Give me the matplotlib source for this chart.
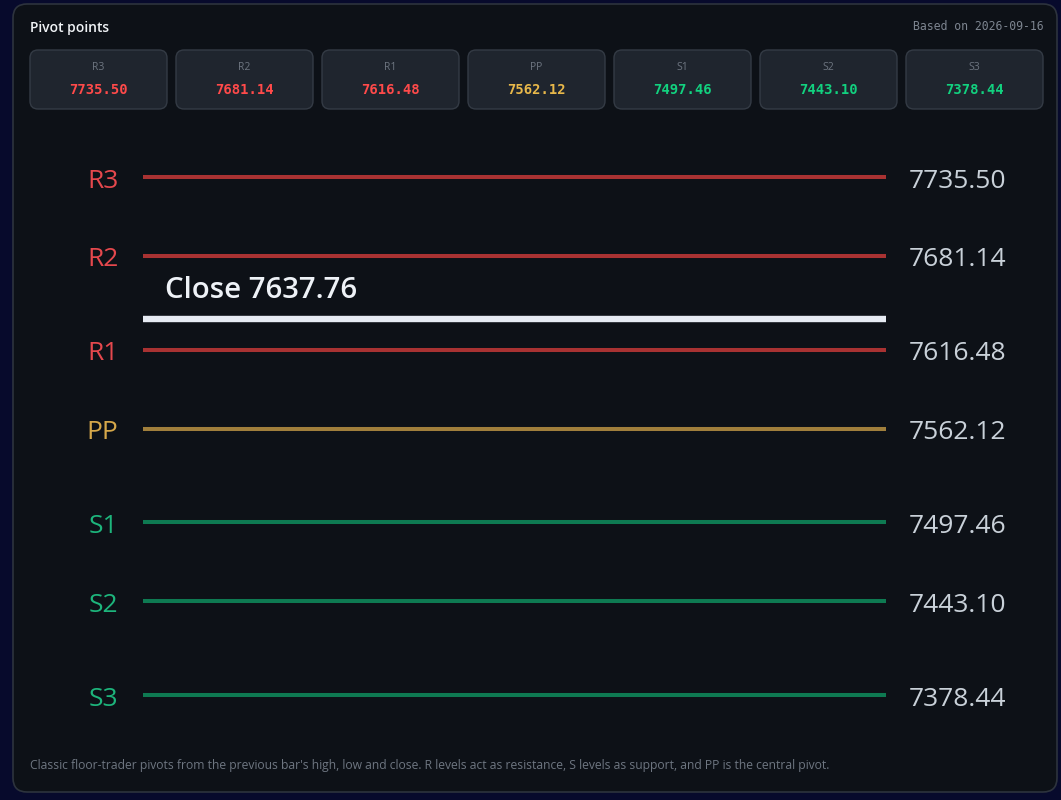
import matplotlib.pyplot as plt
from matplotlib.patches import FancyBboxPatch
from matplotlib.transforms import offset_copy

# data
levels = ['R3', 'R2', 'R1', 'PP', 'S1', 'S2', 'S3']
values = [7735.50, 7681.14, 7616.48, 7562.12, 7497.46, 7443.10, 7378.44]
close_price = 7637.76
based_on = '2026-09-16'
note = ("Classic floor-trader pivots from the previous bar's high, low and close. "
        "R levels act as resistance, S levels as support, and PP is the central pivot.")

W, H = 1061, 800
FONT = ['Open Sans', 'DejaVu Sans']
MONO = ['DejaVu Sans Mono']

line_col = {'R': '#a83232', 'P': '#a07f3c', 'S': '#0e7a52'}
label_col = {'R': '#e5484d', 'P': '#d6a84a', 'S': '#1db57c'}
card_col = {'R': '#ff4a4a', 'P': '#e8b84a', 'S': '#12d17f'}

fig = plt.figure(figsize=(W / 100, H / 100), dpi=100)
fig.patch.set_facecolor('#070a2c')

# background card (pixel coordinates, y down)
bg = fig.add_axes([0, 0, 1, 1])
bg.set_xlim(0, W)
bg.set_ylim(H, 0)
bg.axis('off')
bg.add_patch(FancyBboxPatch((13, 4), W - 13 - 4, 788, boxstyle='round,pad=0,rounding_size=14',
                            facecolor='#0d1117', edgecolor='#2d333d', linewidth=1.2))

bg.text(30, 28, 'Pivot points', color='#f0f3f6', fontsize=10, fontweight='semibold',
        family=FONT, va='center', ha='left')
bg.text(1044, 26, f'Based on {based_on}', color='#7d8590', fontsize=8.3, family=MONO,
        va='center', ha='right')

# summary cards
x0, cw, step = 30, 137, 146
for i, (lev, val) in enumerate(zip(levels, values)):
    x = x0 + i * step
    bg.add_patch(FancyBboxPatch((x, 50), cw, 59, boxstyle='round,pad=0,rounding_size=8',
                                facecolor='#1f252e', edgecolor='#343b45', linewidth=1))
    bg.text(x + cw / 2, 68, lev, color='#6e7681', fontsize=7.5, family=FONT,
            ha='center', va='center')
    bg.text(x + cw / 2, 90, f'{val:.2f}', color=card_col[lev[0]], fontsize=10,
            fontweight='bold', family=MONO, ha='center', va='center')

bg.text(30, 766, note, color='#6e7681', fontsize=8.7, family=FONT, va='center', ha='left')

# level chart: axes box in pixels, y mapped linearly to price
left_px, right_px, top_px, bot_px = 143, 886, 140, 730
ax = fig.add_axes([left_px / W, 1 - bot_px / H, (right_px - left_px) / W, (bot_px - top_px) / H])
ax.axis('off')
scale = (695 - 177) / (max(values) - min(values))
ax.set_ylim(min(values) - (bot_px - 695) / scale, max(values) + (177 - top_px) / scale)
ax.set_xlim(0, 1)

ytr = offset_copy(ax.get_yaxis_transform(), fig=fig, y=-4, units='dots')

for lev, val in zip(levels, values):
    k = lev[0]
    ax.plot([0, 1], [val, val], color=line_col[k], linewidth=2.9, solid_capstyle='butt')
    ax.text(-0.033, val, lev, color=label_col[k], fontsize=19, family=FONT,
            ha='right', va='center', transform=ytr)
    ax.text(1.031, val, f'{val:.2f}', color='#c9d1d9', fontsize=19, family=FONT,
            ha='left', va='center', transform=ytr)

ax.plot([0, 1], [close_price, close_price], color='#e6ebf3', linewidth=4.6, solid_capstyle='butt')
ax.text(0.030, close_price + 22.5, f'Close {close_price:.2f}', color='#eef2f7', fontsize=21.2,
        fontweight='semibold', family=FONT, ha='left', va='center', transform=ytr)

fig.savefig('out.png', dpi=100, facecolor=fig.get_facecolor())
